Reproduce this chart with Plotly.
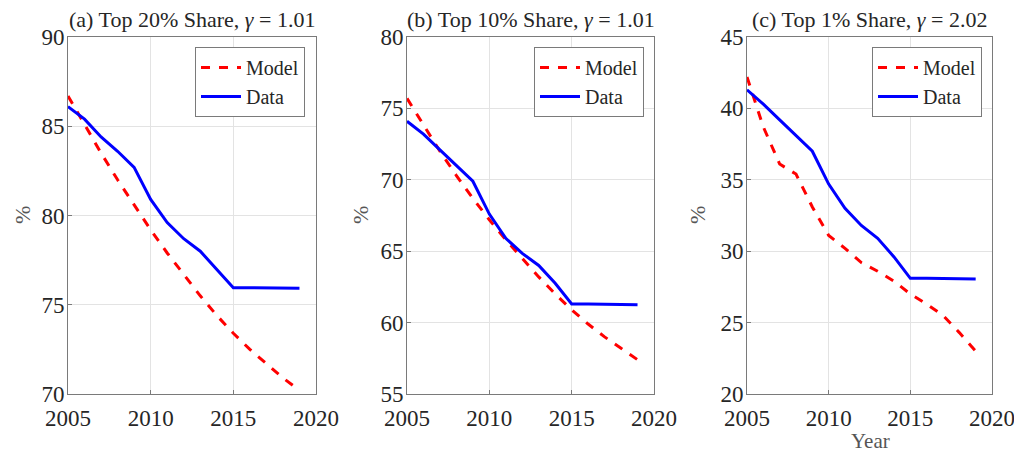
import plotly.graph_objects as go

years = list(range(2005, 2020))

# (a) top 20% share
model_top20 = [86.7, 85.1, 83.5, 82.0, 80.6, 79.2, 77.9, 76.7, 75.5, 74.4, 73.4, 72.5, 71.7, 70.9, 70.2]
data_top20 = [86.1, 85.4, 84.4, 83.6, 82.7, 80.9, 79.6, 78.7, 78.0, 77.0, 75.95, 75.95, 75.95, 75.93, 75.93]

# (b) top 10% share
model_top10 = [75.7, 73.8, 72.0, 70.3, 68.7, 67.2, 65.8, 64.5, 63.2, 62.0, 60.9, 59.9, 59.0, 58.2, 57.4]
data_top10 = [74.1, 73.2, 72.1, 71.0, 69.9, 67.6, 65.9, 64.85, 64.0, 62.75, 61.3, 61.3, 61.3, 61.25, 61.25]

# (c) top 1% share
model_top1 = [42.2, 38.7, 36.1, 35.4, 33.1, 31.1, 30.2, 29.2, 28.6, 27.9, 27.0, 26.3, 25.5, 24.3, 23.0]
data_top1 = [41.3, 40.3, 39.2, 38.1, 37.0, 34.7, 33.0, 31.8, 30.9, 29.6, 28.1, 28.1, 28.1, 28.05, 28.05]

titles = ["(a) Top 20% Share, <i>γ</i> = 1.01",
          "(b) Top 10% Share, <i>γ</i> = 1.01",
          "(c) Top 1% Share, <i>γ</i> = 2.02"]
y_ranges = [[70, 90], [55, 80], [20, 45]]

# page has an 8px body margin, so the figure is drawn 8px in from the window corner
OFF = 8
W, H = 1022 - OFF, 455 - OFF


def px(x):
    return (x - OFF) / W


def py(y):
    return (H - (y - OFF)) / H


x_doms = [[px(68), px(316)], [px(407), px(654)], [px(747), px(992)]]
y_dom = [py(394), py(37)]
legend_x = [px(305), px(644), px(982)]
pct_x = [px(22), px(360), px(697)]

FONT = "Liberation Serif"
TXT = "#262626"
LINE = "#7a7a7a"

panels = [(model_top20, data_top20), (model_top10, data_top10), (model_top1, data_top1)]

fig = go.Figure()
annotations = []
for i, (model, data) in enumerate(panels):
    n = "" if i == 0 else str(i + 1)
    leg = "legend" if i == 0 else f"legend{i + 1}"
    fig.add_trace(go.Scatter(x=years, y=model, name="Model", mode="lines",
                             line=dict(color="#ff0000", width=3, dash="dash"),
                             xaxis="x" + n, yaxis="y" + n, legend=leg))
    fig.add_trace(go.Scatter(x=years, y=data, name="Data", mode="lines",
                             line=dict(color="#0000ff", width=3),
                             xaxis="x" + n, yaxis="y" + n, legend=leg))

    axis_common = dict(showline=True, mirror=True, linecolor=LINE, linewidth=1,
                       showgrid=True, gridcolor="#e3e3e3", zeroline=False,
                       ticks="inside", ticklen=4, tickcolor=LINE, automargin=False,
                       tickfont=dict(family=FONT, size=23, color=TXT))
    fig.update_layout({
        "xaxis" + n: dict(domain=x_doms[i], anchor="y" + n, range=[2005, 2020],
                          tickvals=[2005, 2010, 2015, 2020], ticklabelstandoff=3,
                          **axis_common),
        "yaxis" + n: dict(domain=y_dom, anchor="x" + n, range=y_ranges[i], dtick=5,
                          ticklabelstandoff=-2, **axis_common),
        leg: dict(x=legend_x[i], y=py(47), xanchor="right", yanchor="top",
                  bgcolor="white", bordercolor=LINE, borderwidth=1,
                  font=dict(family=FONT, size=20, color=TXT),
                  tracegroupgap=0, itemwidth=40),
    })

    annotations.append(dict(text=titles[i], x=sum(x_doms[i]) / 2, y=py(20),
                            xref="paper", yref="paper", showarrow=False,
                            xanchor="center", yanchor="middle",
                            font=dict(family=FONT, size=22, color=TXT)))
    annotations.append(dict(text="%", x=pct_x[i], y=py(215), textangle=-90,
                            xref="paper", yref="paper", showarrow=False,
                            xanchor="center", yanchor="middle",
                            font=dict(family=FONT, size=22, color="#555555")))

annotations.append(dict(text="Year", x=px(870), y=py(441),
                        xref="paper", yref="paper", showarrow=False,
                        xanchor="center", yanchor="middle",
                        font=dict(family=FONT, size=21, color="#555555")))

fig.update_layout(
    width=W, height=H,
    margin=dict(t=0, b=0, l=0, r=0),
    plot_bgcolor="white", paper_bgcolor="white",
    annotations=annotations,
)

fig.write_html("out.html")
